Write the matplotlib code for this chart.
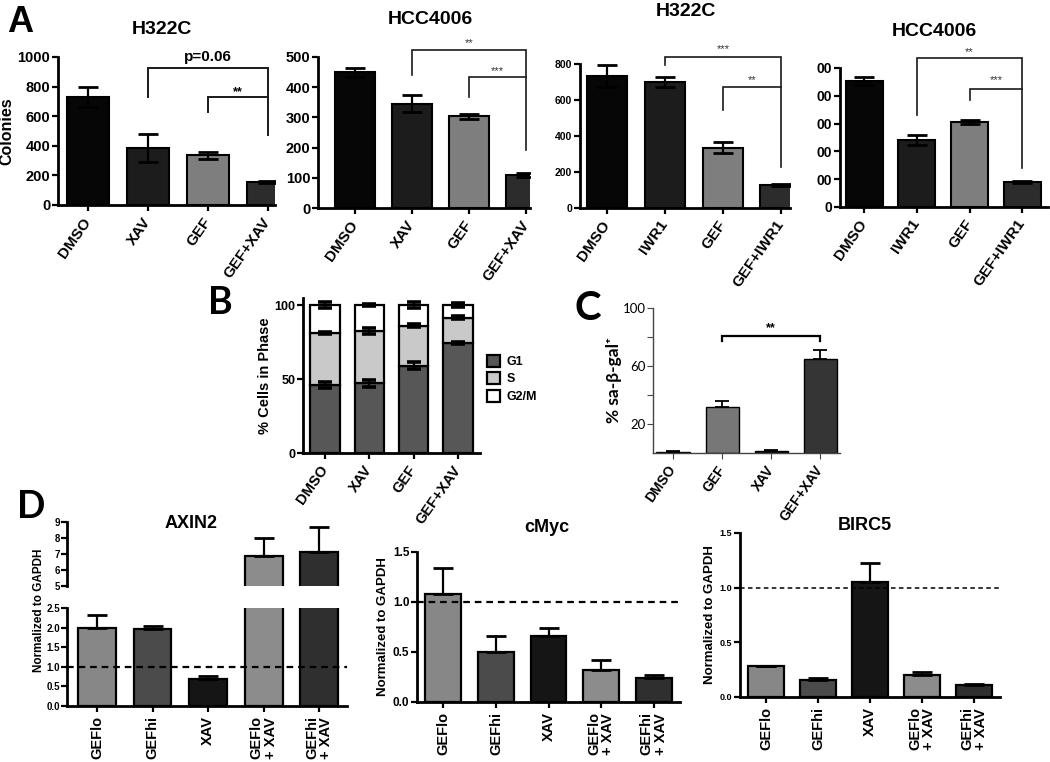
import matplotlib
matplotlib.use('Agg')
import matplotlib.pyplot as plt
import numpy as np
from matplotlib.patches import Patch

W, H = 1050, 762
plt.rcParams['font.family'] = ['Liberation Sans', 'DejaVu Sans']
plt.rcParams['font.weight'] = 'bold'
plt.rcParams['axes.labelweight'] = 'bold'

# ---------------- data ----------------
a_labels_xav = ['DMSO', 'XAV', 'GEF', 'GEF+XAV']
a_labels_iwr = ['DMSO', 'IWR1', 'GEF', 'GEF+IWR1']
a_colors = ['#060606', '#1c1c1c', '#7e7e7e', '#2c2c2c']

a1_vals = [730, 385, 335, 155]
a1_err = [70, 95, 25, 8]
a2_vals = [450, 345, 303, 110]
a2_err = [15, 28, 7, 7]
a3_vals = [735, 700, 335, 130]
a3_err = [60, 28, 30, 5]
a4_vals = [453, 241, 306, 90]
a4_err = [15, 18, 8, 3]

b_labels = ['DMSO', 'XAV', 'GEF', 'GEF+XAV']
b_g1 = [46, 47, 59, 74.5]
b_s = [35, 35.5, 27, 17]
b_g2m = [19, 17.5, 14, 8.5]
b_g1_err = [2, 2.5, 2.5, 0.8]
b_s_err = [0.8, 2, 1, 1]
b_g2m_err = [2, 0.5, 2, 1.5]
b_phase_names = ['G1', 'S', 'G2/M']
b_phase_colors = ['#575757', '#c9c9c9', '#ffffff']

c_labels = ['DMSO', 'GEF', 'XAV', 'GEF+XAV']
c_vals = [1.0, 32, 1.5, 65]
c_err = [0.3, 4, 0.3, 6]
c_colors = ['#080808', '#777777', '#0c0c0c', '#353535']

d_labels = ['GEFlo', 'GEFhi', 'XAV', 'GEFlo\n+ XAV', 'GEFhi\n+ XAV']
d_colors = ['#878787', '#4b4b4b', '#151515', '#8c8c8c', '#2f2f2f']
axin2_vals = [2.0, 1.97, 0.7, 6.9, 7.15]
axin2_err = [0.33, 0.08, 0.07, 1.1, 1.55]
cmyc_vals = [1.08, 0.5, 0.66, 0.32, 0.24]
cmyc_err = [0.26, 0.16, 0.08, 0.1, 0.03]
birc5_vals = [0.28, 0.16, 1.05, 0.2, 0.11]
birc5_err = [0.0, 0.01, 0.18, 0.03, 0.01]

fig = plt.figure(figsize=(W / 100, H / 100), dpi=100)
fig.patch.set_facecolor('white')


def px_axes(x0, y_top, x1, y_bot):
    return fig.add_axes([x0 / W, 1 - y_bot / H, (x1 - x0) / W, (y_bot - y_top) / H])


def style(ax, lw=2.0, color='black'):
    for s in ['top', 'right']:
        ax.spines[s].set_visible(False)
    for s in ['left', 'bottom']:
        ax.spines[s].set_linewidth(lw)
        ax.spines[s].set_color(color)
    ax.tick_params(width=lw * 0.8, length=4, color=color, pad=1.5)
    ax.set_facecolor('none')


def ftext(x, y, s, **kw):
    fig.text(x / W, 1 - y / H, s, ha='center', va='center', **kw)


def bracket(ax, x1, x2, y, l1, l2, lw=1.4, color='#1a1a1a'):
    ax.plot([x1, x1, x2, x2], [l1, y, y, l2], color=color, lw=lw,
            clip_on=False, solid_joinstyle='miter', zorder=4)


# ---------------- panel A ----------------
def panel_a(rect, labels, vals, errs, ylim, yticks, ytl, yfs, xlim):
    ax = px_axes(*rect)
    x = np.arange(len(vals))
    ax.bar(x, vals, width=0.7, color=a_colors, edgecolor='black', linewidth=1.5, zorder=2)
    ax.errorbar(x, vals, yerr=errs, fmt='none', ecolor='black', elinewidth=1.6,
                capsize=7, capthick=2, zorder=3)
    ax.set_xlim(*xlim)
    ax.set_ylim(*ylim)
    ax.set_yticks(yticks)
    ax.set_yticklabels(ytl, fontsize=yfs, fontweight='bold')
    ax.set_xticks(x)
    ax.set_xticklabels(labels, rotation=55, ha='right', va='center',
                       rotation_mode='anchor', fontsize=11, fontweight='bold')
    style(ax)
    ax.tick_params(axis='x', pad=6)
    return ax


ax1 = panel_a((58, 57, 275, 205), a_labels_xav, a1_vals, a1_err, (0, 1000),
              [0, 200, 400, 600, 800, 1000], ['0', '200', '400', '600', '800', '1000'], 10.5,
              (-0.5, 3.12))
ax1.set_ylabel('Colonies', fontsize=11.5, fontweight='bold', labelpad=2)
bracket(ax1, 1, 3, 926, 730, 473)
bracket(ax1, 2, 3, 730, 628, 730)
ax1.text(2.0, 1000, 'p=0.06', ha='center', va='center', fontsize=11, fontweight='bold')
ax1.text(2.5, 760, '**', ha='center', va='center', fontsize=9, fontweight='bold')

ax2 = panel_a((318, 57, 530, 208), a_labels_xav, a2_vals, a2_err, (0, 500),
              [0, 100, 200, 300, 400, 500], ['0', '100', '200', '300', '400', '500'], 10.5,
              (-0.65, 3.07))
bracket(ax2, 1, 3, 523, 440, 192, lw=1.2)
bracket(ax2, 2, 3, 434, 368, 434, lw=1.2)
ax2.text(2.0, 545, '**', ha='center', va='center', fontsize=8, fontweight='normal', color='#333')
ax2.text(2.5, 455, '***', ha='center', va='center', fontsize=8, fontweight='normal', color='#333')

ax3 = panel_a((580, 64, 790, 208), a_labels_iwr, a3_vals, a3_err, (0, 800),
              [0, 200, 400, 600, 800], ['0', '200', '400', '600', '800'], 7.5,
              (-0.47, 3.16))
bracket(ax3, 1, 3, 840, 795, 228, lw=1.2)
bracket(ax3, 2, 3, 672, 545, 672, lw=1.2)
ax3.text(2.0, 883, '***', ha='center', va='center', fontsize=8, fontweight='normal', color='#333')
ax3.text(2.5, 711, '**', ha='center', va='center', fontsize=8, fontweight='normal', color='#333')

ax4 = panel_a((840, 68, 1048, 207), a_labels_iwr, a4_vals, a4_err, (0, 500),
              [0, 100, 200, 300, 400, 500], ['0', '00', '00', '00', '00', '00'], 10,
              (-0.46, 3.49))
bracket(ax4, 1, 3, 536, 331, 140, lw=1.2)
bracket(ax4, 2, 3, 424, 385, 424, lw=1.2)
ax4.text(2.0, 556, '**', ha='center', va='center', fontsize=8, fontweight='normal', color='#333')
ax4.text(2.5, 455, '***', ha='center', va='center', fontsize=8, fontweight='normal', color='#333')

ftext(162, 30, 'H322C', fontsize=14, fontweight='bold')
ftext(430, 20, 'HCC4006', fontsize=14, fontweight='bold')
ftext(686, 11, 'H322C', fontsize=14, fontweight='bold')
ftext(934, 32, 'HCC4006', fontsize=14, fontweight='bold')
ftext(20, 22, 'A', fontsize=26, fontweight='bold')

# ---------------- panel B ----------------
axb = px_axes(303, 298, 480, 453)
xb = np.arange(len(b_labels))
bot = np.zeros(len(b_labels))
for vals, col, name in zip([b_g1, b_s, b_g2m], b_phase_colors, b_phase_names):
    axb.bar(xb, vals, bottom=bot, width=0.68, color=col, edgecolor='black',
            linewidth=1.6, zorder=2, label=name)
    bot = bot + np.array(vals)
cum1 = np.array(b_g1)
cum2 = cum1 + np.array(b_s)
cum3 = cum2 + np.array(b_g2m)
for cum, err in [(cum1, b_g1_err), (cum2, b_s_err), (cum3, b_g2m_err)]:
    axb.errorbar(xb, cum, yerr=err, fmt='none', ecolor='black', elinewidth=1.6,
                 capsize=5, capthick=2.6, zorder=3)
axb.set_xlim(-0.51, 3.51)
axb.set_ylim(0, 100 * (453 - 298) / (453 - 305))
axb.set_yticks([0, 50, 100])
axb.set_yticklabels(['0', '50', '100'], fontsize=9, fontweight='bold')
axb.set_xticks(xb)
axb.set_xticklabels(b_labels, rotation=55, ha='right', va='center',
                    rotation_mode='anchor', fontsize=10.5, fontweight='bold')
style(axb)
axb.tick_params(axis='x', pad=6)
axb.set_ylabel('% Cells in Phase', fontsize=10.5, fontweight='bold', labelpad=2)
handles = [Patch(facecolor=c, edgecolor='black', linewidth=1.6) for c in b_phase_colors]
fig.legend(handles, b_phase_names, loc='upper left', bbox_to_anchor=(484 / W, 1 - 352 / H),
           frameon=False, handlelength=1.1, handleheight=1.1, fontsize=9,
           labelspacing=0.35, handletextpad=0.5, borderaxespad=0, borderpad=0.2)
ftext(220, 303, 'B', fontsize=27, fontweight='bold', family=['Lato', 'DejaVu Sans'])

# ---------------- panel C ----------------
axc = px_axes(653, 308, 840, 453)
xc = np.arange(len(c_labels))
axc.bar(xc, c_vals, width=0.68, color=c_colors, edgecolor='black', linewidth=1.0, zorder=2)
axc.errorbar(xc, c_vals, yerr=[[0] * 4, c_err], fmt='none', ecolor='black', elinewidth=1.3,
             capsize=5, capthick=1.3, zorder=3)
axc.set_xlim(-0.41, 3.4)
axc.set_ylim(0, 100)
axc.set_yticks([20, 40, 60, 80, 100])
axc.set_yticklabels(['20', '', '60', '', '100'], fontsize=9.5, fontweight='normal',
                    family=['Lato', 'DejaVu Sans'])
axc.set_xticks(xc)
axc.set_xticklabels(c_labels, rotation=55, ha='right', va='center',
                    rotation_mode='anchor', fontsize=10, fontweight='bold')
style(axc, lw=1.0, color='#444444')
axc.tick_params(axis='x', pad=6)
axc.set_ylabel('% sa-β-gal⁺', fontsize=12.5, fontweight='bold',
               family=['Lato', 'DejaVu Sans'], labelpad=0)
bracket(axc, 1, 3, 81, 77, 77, lw=1.6, color='black')
axc.text(2.0, 86, '**', ha='center', va='center', fontsize=9, fontweight='bold')
ftext(588, 308, 'C', fontsize=29, fontweight='bold', family=['Lato', 'DejaVu Sans'])

# ---------------- panel D ----------------
def d_bars(ax, vals, errs, xlim):
    x = np.arange(len(vals))
    ax.bar(x, vals, width=0.68, color=d_colors, edgecolor='black', linewidth=1.6, zorder=2)
    ax.errorbar(x, vals, yerr=[[0] * len(vals), errs], fmt='none', ecolor='black',
                elinewidth=1.6, capsize=7, capthick=2, zorder=3)
    ax.set_xlim(*xlim)
    return x


def d_xlabels(ax, x):
    ax.set_xticks(x)
    ax.set_xticklabels(d_labels, rotation=90, ha='center', va='top', multialignment='left',
                       fontsize=10.5, fontweight='bold', linespacing=1.0)
    ax.tick_params(axis='x', pad=3)


# AXIN2 with broken axis
axd_top = px_axes(67, 522, 347, 586)
axd_bot = px_axes(67, 608, 347, 706)
d_bars(axd_top, axin2_vals, axin2_err, (-0.54, 4.5))
x_d = d_bars(axd_bot, axin2_vals, axin2_err, (-0.54, 4.5))
axd_top.set_ylim(5, 9)
axd_top.set_yticks([5, 6, 7, 8, 9])
axd_top.set_yticklabels(['5', '6', '7', '8', '9'], fontsize=7, fontweight='bold')
style(axd_top)
axd_top.spines['bottom'].set_visible(False)
axd_top.set_xticks([])
axd_top.tick_params(axis='y', pad=1)
axd_bot.set_ylim(0, 2.5)
axd_bot.set_yticks([0, 0.5, 1.0, 1.5, 2.0, 2.5])
axd_bot.set_yticklabels(['0.0', '0.5', '1.0', '1.5', '2.0', '2.5'], fontsize=7, fontweight='bold')
style(axd_bot)
axd_bot.tick_params(axis='y', pad=1)
axd_bot.axhline(1.0, color='black', lw=1.6, ls=(0, (3, 2.2)), zorder=5)
d_xlabels(axd_bot, x_d)
ftext(39, 610, 'Normalized to GAPDH', fontsize=8.5, fontweight='bold', rotation=90)
ftext(191, 523, 'AXIN2', fontsize=13, fontweight='bold')
ftext(31, 507, 'D', fontsize=27, fontweight='bold', family=['Lato', 'DejaVu Sans'])

# cMyc
axm = px_axes(417, 552, 680, 702)
x_m = d_bars(axm, cmyc_vals, cmyc_err, (-0.5, 4.5))
axm.set_ylim(0, 1.5)
axm.set_yticks([0, 0.5, 1.0, 1.5])
axm.set_yticklabels(['0.0', '0.5', '1.0', '1.5'], fontsize=8.5, fontweight='bold')
style(axm)
axm.axhline(1.0, color='black', lw=1.6, ls=(0, (3, 2.2)), zorder=5)
d_xlabels(axm, x_m)
axm.set_ylabel('Normalized to GAPDH', fontsize=9.5, fontweight='bold', labelpad=3)
ftext(547, 527, 'cMyc', fontsize=13, fontweight='bold')

# BIRC5
axr = px_axes(740, 533, 1000, 697)
x_r = d_bars(axr, birc5_vals, birc5_err, (-0.5, 4.5))
axr.set_ylim(0, 1.5)
axr.set_yticks([0, 0.5, 1.0, 1.5])
axr.set_yticklabels(['0.0', '0.5', '1.0', '1.5'], fontsize=6.5, fontweight='bold')
style(axr)
axr.axhline(1.0, color='black', lw=1.1, ls=(0, (3, 2.2)), zorder=5)
d_xlabels(axr, x_r)
axr.set_ylabel('Normalized to GAPDH', fontsize=9.5, fontweight='bold', labelpad=3)
ftext(865, 526, 'BIRC5', fontsize=13, fontweight='bold')

fig.savefig('out.png', dpi=100, facecolor='white')
